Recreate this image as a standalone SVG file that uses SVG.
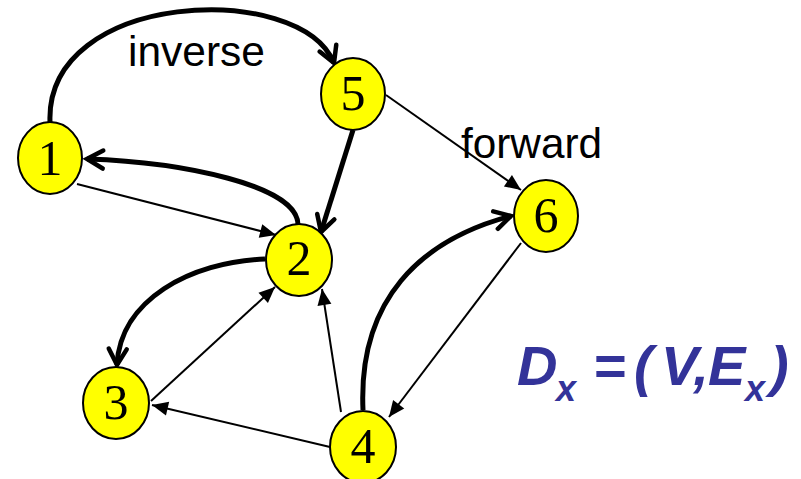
<svg xmlns="http://www.w3.org/2000/svg" width="801" height="479" viewBox="0 0 801 479">
<defs>
<marker id="open" markerUnits="userSpaceOnUse" markerWidth="24" markerHeight="24" refX="18" refY="10" orient="auto" overflow="visible">
<path d="M2,1 L18,10 L2,19" fill="none" stroke="#000" stroke-width="4.5" stroke-linecap="round" stroke-linejoin="miter"/>
</marker>
<marker id="fill" markerUnits="userSpaceOnUse" markerWidth="16" markerHeight="14" refX="16" refY="7" orient="auto" overflow="visible">
<path d="M0,0 L16,7 L0,14 Z" fill="#000"/>
</marker>
</defs>
<style>
.thick{fill:none;stroke:#000;stroke-width:5;marker-end:url(#open)}
.thin{fill:none;stroke:#000;stroke-width:2;marker-end:url(#fill)}
.node ellipse{fill:#ffff00;stroke:#000;stroke-width:2}
.node text{font-family:"Liberation Serif","Times New Roman",serif;font-size:50px;text-anchor:middle;fill:#000}
.lbl{font-family:"Liberation Sans",Arial,sans-serif;font-size:42px;fill:#000}
.f{font-family:"Liberation Sans",Arial,sans-serif;font-weight:bold;font-style:italic;fill:#333399}
</style>
<g id="connectors">
<path class="thick" d="M50,122 C45,-10 300,-20 334,63"/>
<path class="thick" d="M298,226 C300,185 180,162 87,159"/>
<path class="thin" d="M77,184 L276,235"/>
<path class="thick" d="M353,130 L321,232"/>
<path class="thin" d="M386,95 L521,190"/>
<path class="thick" d="M265,259 C190,262 120,300 117,365"/>
<path class="thin" d="M151,401 L275,287"/>
<path class="thin" d="M330,447 L152,405"/>
<path class="thin" d="M341,412 L322,289"/>
<path class="thick" d="M363,410 C358,300 420,240 511,216"/>
<path class="thin" d="M521,243 L389,417"/>
</g>
<g id="node1" class="node"><ellipse cx="50" cy="158" rx="32" ry="36"/><text x="50" y="175">1</text></g>
<g id="node2" class="node"><ellipse cx="299" cy="260" rx="33" ry="36"/><text x="299" y="275">2</text></g>
<g id="node3" class="node"><ellipse cx="116" cy="403" rx="33" ry="36"/><text x="116" y="419">3</text></g>
<g id="node4" class="node"><ellipse cx="363" cy="447" rx="33" ry="36"/><text x="363" y="463">4</text></g>
<g id="node5" class="node"><ellipse cx="353" cy="94" rx="32" ry="36"/><text x="353" y="110">5</text></g>
<g id="node6" class="node"><ellipse cx="546" cy="216" rx="32" ry="36"/><text x="546" y="232">6</text></g>
<text class="lbl" x="128" y="66" textLength="137" lengthAdjust="spacingAndGlyphs">inverse</text>
<text class="lbl" x="461" y="158" textLength="141" lengthAdjust="spacingAndGlyphs">forward</text>
<g id="formula">
<text class="f" x="517" y="385" font-size="56">D</text>
<text class="f" x="556" y="401" font-size="36">x</text>
<text class="f" x="593" y="385" font-size="56">=</text>
<text class="f" x="634" y="385" font-size="56">(</text>
<text class="f" x="661" y="385" font-size="56">V,</text>
<text class="f" x="708" y="385" font-size="56">E</text>
<text class="f" x="745" y="401" font-size="36">x</text>
<text class="f" x="770" y="385" font-size="56">)</text>
</g>
</svg>
